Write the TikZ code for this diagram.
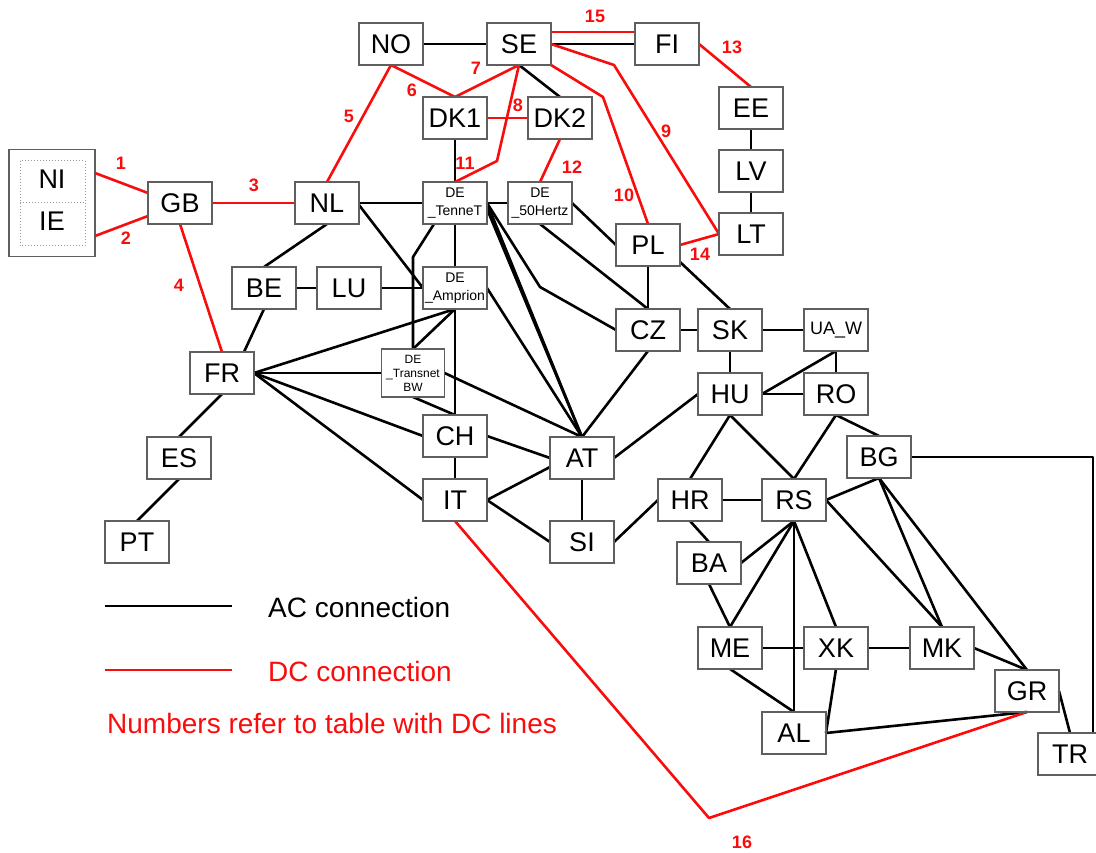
\documentclass[tikz,border=0pt]{standalone}
\usepackage{fontspec}
\setmainfont{Liberation Sans}
\definecolor{boxgray}{RGB}{95,95,95}
\definecolor{dotgray}{RGB}{150,150,150}
\definecolor{dcred}{RGB}{250,12,12}
\tikzset{
  box/.style={draw=boxgray, line width=1.3pt, fill=white, minimum width=64pt,
    minimum height=42pt, inner sep=0pt, outer sep=0pt,
    font=\fontsize{27}{30}\selectfont},
  debox/.style={box, align=center, font=\fontsize{14}{18}\selectfont},
  ac/.style={draw=black, line width=2.6pt, line join=round},
  dc/.style={draw=dcred, line width=2.6pt, line join=round},
  num/.style={text=dcred, font=\fontsize{18}{20}\selectfont\bfseries, inner sep=0pt},
  legtext/.style={anchor=west, inner sep=0pt, font=\fontsize{28}{32}\selectfont},
}
\begin{document}
\begin{tikzpicture}[x=1pt,y=-1pt]
\useasboundingbox (0,0) rectangle (1096,853);

% bend points of the routed connectors
\coordinate (tb1) at (413,257);
\coordinate (cz1) at (540,287);
\coordinate (dc11) at (497,161);
\coordinate (dc10) at (603,97);
\coordinate (dc9) at (614,65);
\coordinate (dc16) at (709,818);
\coordinate (tr1) at (1093,457);

% ---------- nodes ----------
\node[box] (NO) at (391,44) {NO};
\node[box] (SE) at (519,44) {SE};
\node[box] (FI) at (667,44) {FI};
\node[box] (DK1) at (455,118) {DK1};
\node[box] (DK2) at (560,118) {DK2};
\node[box] (EE) at (751,108) {EE};
\node[box] (LV) at (751,171) {LV};
\node[box] (LT) at (751,234) {LT};
\node[debox] (TEN) at (455,203) {DE\\\_TenneT};
\node[debox] (HZ) at (540,203) {DE\\\_50Hertz};
\node[box] (PL) at (648,245) {PL};
\node[box] (GB) at (180,203) {GB};
\node[box] (NL) at (327,203) {NL};
\node[box] (BE) at (264,288) {BE};
\node[box] (LU) at (349,288) {LU};
\node[debox] (AMP) at (455,288) {DE\\\_Amprion};
\node[box] (FR) at (222,373) {FR};
\node[box, align=center, minimum width=63pt, minimum height=48pt,
      font=\fontsize{12}{14}\selectfont] (TBW) at (413,373) {DE\\\_Transnet\\BW};
\node[box] (CH) at (455,436) {CH};
\node[box] (IT) at (455,500) {IT};
\node[box] (AT) at (582,458) {AT};
\node[box] (SI) at (582,542) {SI};
\node[box] (ES) at (179,458) {ES};
\node[box] (PT) at (137,542) {PT};
\node[box] (CZ) at (648,330) {CZ};
\node[box] (SK) at (730,330) {SK};
\node[box, font=\fontsize{18}{20}\selectfont] (UA) at (836,330) {UA\_W};
\node[box] (HU) at (730,394) {HU};
\node[box] (RO) at (836,394) {RO};
\node[box] (BG) at (879,457) {BG};
\node[box] (HR) at (690,500) {HR};
\node[box] (RS) at (794,500) {RS};
\node[box] (BA) at (709,563) {BA};
\node[box] (ME) at (730,648) {ME};
\node[box] (XK) at (836,648) {XK};
\node[box] (MK) at (942,648) {MK};
\node[box] (GR) at (1027,691) {GR};
\node[box] (AL) at (794,733) {AL};
\node[box] (TR) at (1070,754) {TR};

% Ireland box: NI and IE share one framed block
\node[draw=boxgray, line width=1.3pt, minimum width=86pt, minimum height=107pt,
      inner sep=0pt, outer sep=0pt] (IRL) at (52,203) {};
\draw[dotgray, line width=1pt, dotted] (20,161) rectangle (85,246);
\draw[dotgray, line width=1pt, dotted] (20,203) -- (85,203);
\node[font=\fontsize{27}{30}\selectfont, inner sep=0pt] (NI) at (52,179) {NI};
\node[font=\fontsize{27}{30}\selectfont, inner sep=0pt] (IE) at (52,221) {IE};

% ---------- AC connections ----------
\begin{scope}[ac]
\draw (NO.east) -- (SE.west);
\draw (SE.east) -- (FI.west);
\draw (SE.south) -- (DK2.north);
\draw (DK1.south) -- (TEN.north);
\draw (EE.south) -- (LV.north);
\draw (LV.south) -- (LT.north);
\draw (NL.east) -- (TEN.west);
\draw (TEN.east) -- (HZ.west);
\draw (NL.south) -- (BE.north);
\draw (BE.east) -- (LU.west);
\draw (LU.east) -- (AMP.west);
\draw ([yshift=-2pt]NL.east) -- (AMP.west);
\draw (TEN.south) -- (AMP.north);
\draw ([xshift=11pt]TEN.south west) -- (tb1) -- (TBW.north);
\draw (AMP.south) -- (TBW.north);
\draw (AMP.south) -- (FR.east);
\draw (AMP.south) -- (CH.north);
\draw (FR.east) -- (TBW.west);
\draw (TBW.south) -- (CH.north);
\draw (TBW.east) -- (AT.north);
\draw (FR.east) -- (CH.west);
\draw (FR.east) -- (IT.west);
\draw (FR.south) -- (ES.north);
\draw (ES.south) -- (PT.north);
\draw (BE.south) -- ([xshift=22pt]FR.north);
\draw (CH.south) -- (IT.north);
\draw (CH.east) -- (AT.west);
\draw (IT.east) -- ([yshift=-9pt]AT.west);
\draw (IT.east) -- (SI.west);
\draw (AT.south) -- (SI.north);
\draw (SI.east) -- (HR.west);
\draw (AT.east) -- (HU.west);
\draw (AT.north) -- (CZ.south);
\draw (TEN.east) -- (AT.north);
\draw ([yshift=-6pt]TEN.east) -- (AT.north);
\draw (AMP.east) -- (AT.north);
\draw (TEN.east) -- (cz1) -- (CZ.west);
\draw (HZ.east) -- (PL.west);
\draw (HZ.south) -- (CZ.north);
\draw (PL.south) -- (CZ.north);
\draw ([yshift=4pt]PL.south east) -- (SK.north);
\draw (CZ.east) -- (SK.west);
\draw (SK.east) -- (UA.west);
\draw (SK.south) -- (HU.north);
\draw (UA.south) -- (RO.north);
\draw (UA.south) -- (HU.east);
\draw (HU.east) -- (RO.west);
\draw (HU.south) -- (HR.north);
\draw (HU.south) -- (RS.north);
\draw (RO.south) -- (RS.north);
\draw (RO.south) -- (BG.north);
\draw (BG.south) -- (RS.east);
\draw (BG.south) -- (MK.north);
\draw (BG.south) -- (GR.north);
\draw (RS.east) -- (MK.north);
\draw (HR.east) -- (RS.west);
\draw (HR.south) -- (BA.north);
\draw (BA.east) -- (RS.south);
\draw (BA.south) -- (ME.north);
\draw (RS.south) -- (ME.north);
\draw (RS.south) -- (AL.north);
\draw (RS.south) -- (XK.north);
\draw (ME.east) -- (XK.west);
\draw (XK.east) -- (MK.west);
\draw (ME.south) -- (AL.north);
\draw (XK.south) -- (AL.east);
\draw (AL.east) -- (GR.south);
\draw (MK.east) -- (GR.north);
\draw (GR.east) -- (TR.north);
\draw (BG.east) -- (tr1) -- ([xshift=23pt]TR.north);
\end{scope}

% ---------- DC connections ----------
\begin{scope}[dc]
\draw ([yshift=30pt]IRL.east) -- ([yshift=10pt]GB.west);
\draw ([yshift=-33pt]IRL.east) -- ([yshift=-13pt]GB.west);
\draw (GB.east) -- (NL.west);
\draw (GB.south) -- (FR.north);
\draw (NO.south) -- (NL.north);
\draw (NO.south) -- (DK1.north);
\draw (DK1.north) -- (SE.south);
\draw (DK1.east) -- (DK2.west);
\draw (SE.south) -- (dc11) -- (TEN.north);
\draw (DK2.south) -- (HZ.north);
\draw (SE.south east) -- (dc10) -- (PL.north);
\draw (SE.east) -- (dc9) -- (LT.west);
\draw (PL.east) -- (LT.west);
\draw (FI.east) -- (EE.north);
\draw ([yshift=12pt]SE.east) -- ([yshift=12pt]FI.west);
\draw (IT.south) -- (dc16) -- (GR.south);
\end{scope}

% box outlines redrawn over the line ends
\foreach \n in {NO,SE,FI,DK1,DK2,EE,LV,LT,PL,GB,NL,BE,LU,FR,CH,IT,AT,SI,ES,PT,CZ,SK,HU,RO,BG,HR,RS,BA,ME,XK,MK,GR,AL,TR,TEN,HZ,AMP,TBW,UA}
  \draw[boxgray, line width=1.3pt] (\n.south west) rectangle (\n.north east);

% ---------- DC line numbers ----------
\node[num] (n1) at (121,163) {1};
\node[num] (n2) at (126,238) {2};
\node[num] (n3) at (254,185) {3};
\node[num] (n4) at (179,285) {4};
\node[num] (n5) at (349,116) {5};
\node[num] (n6) at (412,90) {6};
\node[num] (n7) at (476,68) {7};
\node[num] (n8) at (518,105) {8};
\node[num] (n9) at (666,131) {9};
\node[num] (n10) at (624,195) {10};
\node[num] (n11) at (465,163) {11};
\node[num] (n12) at (572,167) {12};
\node[num] (n13) at (732,47) {13};
\node[num] (n14) at (700,254) {14};
\node[num] (n15) at (595,16) {15};
\node[num] (n16) at (742,842) {16};

% ---------- legend ----------
\coordinate (la1) at (105,606);
\coordinate (la2) at (232,606);
\coordinate (ld1) at (105,670);
\coordinate (ld2) at (232,670);
\draw[ac] (la1) -- (la2);
\draw[dc] (ld1) -- (ld2);
\node[legtext] (lac) at (268,607) {AC connection};
\node[legtext, text=dcred] (ldc) at (268,671) {DC connection};
\node[legtext, text=dcred] (lnum) at (107,723) {Numbers refer to table with DC lines};
\end{tikzpicture}
\end{document}
